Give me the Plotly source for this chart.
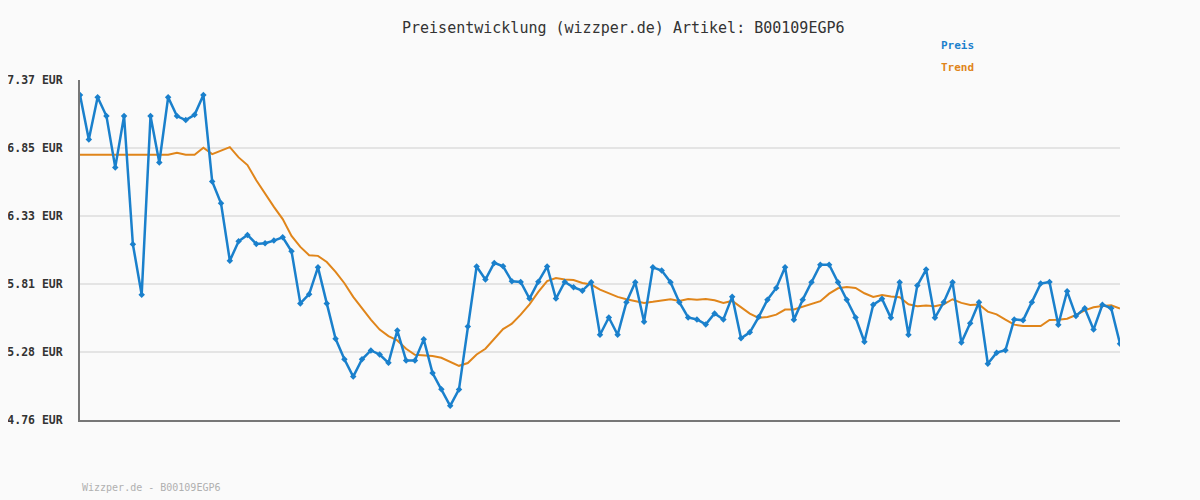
import plotly.graph_objects as go

preis = [7.255, 6.914, 7.237, 7.093, 6.699, 7.093, 6.109, 5.722, 7.093, 6.737,
         7.237, 7.093, 7.062, 7.103, 7.255, 6.591, 6.424, 5.983, 6.132, 6.181,
         6.112, 6.117, 6.137, 6.162, 6.055, 5.655, 5.726, 5.932, 5.655, 5.383,
         5.226, 5.093, 5.226, 5.294, 5.263, 5.199, 5.447, 5.217, 5.217, 5.379,
         5.120, 4.997, 4.869, 4.995, 5.477, 5.938, 5.838, 5.966, 5.940, 5.825,
         5.820, 5.692, 5.822, 5.938, 5.692, 5.820, 5.779, 5.753, 5.818, 5.414,
         5.547, 5.414, 5.664, 5.818, 5.515, 5.932, 5.907, 5.818, 5.664, 5.547,
         5.532, 5.494, 5.578, 5.532, 5.707, 5.387, 5.433, 5.550, 5.684, 5.774,
         5.932, 5.530, 5.684, 5.818, 5.952, 5.952, 5.818, 5.684, 5.547, 5.361,
         5.645, 5.690, 5.544, 5.818, 5.414, 5.792, 5.915, 5.544, 5.664, 5.818,
         5.354, 5.502, 5.664, 5.192, 5.277, 5.295, 5.532, 5.525, 5.664, 5.807,
         5.820, 5.492, 5.748, 5.559, 5.618, 5.454, 5.645, 5.618, 5.346]

trend = [6.796, 6.796, 6.796, 6.796, 6.796, 6.796, 6.796, 6.796, 6.796, 6.796,
         6.796, 6.811, 6.796, 6.796, 6.850, 6.801, 6.829, 6.855, 6.776, 6.717,
         6.601, 6.494, 6.396, 6.302, 6.173, 6.089, 6.025, 6.020, 5.973, 5.897,
         5.810, 5.705, 5.615, 5.531, 5.454, 5.404, 5.371, 5.307, 5.261, 5.258,
         5.251, 5.238, 5.207, 5.176, 5.197, 5.263, 5.307, 5.384, 5.458, 5.499,
         5.569, 5.648, 5.743, 5.827, 5.850, 5.838, 5.835, 5.812, 5.800, 5.761,
         5.735, 5.705, 5.687, 5.672, 5.659, 5.667, 5.679, 5.687, 5.674, 5.689,
         5.684, 5.689, 5.679, 5.659, 5.674, 5.623, 5.577, 5.543, 5.551, 5.569,
         5.608, 5.608, 5.628, 5.651, 5.672, 5.730, 5.771, 5.781, 5.774, 5.733,
         5.705, 5.720, 5.708, 5.702, 5.648, 5.633, 5.638, 5.633, 5.648, 5.687,
         5.659, 5.643, 5.646, 5.592, 5.571, 5.530, 5.492, 5.481, 5.481, 5.481,
         5.528, 5.530, 5.538, 5.566, 5.602, 5.625, 5.635, 5.641, 5.615]

tick_vals = [7.37, 6.848, 6.326, 5.804, 5.282, 4.76]
tick_text = ["7.37 EUR", "6.85 EUR", "6.33 EUR", "5.81 EUR", "5.28 EUR", "4.76 EUR"]

title_text = "Preisentwicklung (wizzper.de) Artikel: B00109EGP6"
watermark = "Wizzper.de - B00109EGP6"

x = list(range(len(preis)))
MONO = "DejaVu Sans Mono, Liberation Mono, monospace"
BLUE = "#1a80cc"
ORANGE = "#e0851a"

# figure is placed at an 8px page offset; plot area spans page x 80..1120, y 80..420
fig = go.Figure()
fig.add_trace(go.Scatter(x=x, y=trend, mode="lines", name="Trend",
                         line=dict(color=ORANGE, width=2)))
fig.add_trace(go.Scatter(x=x, y=preis, mode="lines+markers", name="Preis",
                         line=dict(color=BLUE, width=2.5),
                         marker=dict(symbol="diamond", size=5, color=BLUE)))

fig.update_layout(
    width=1192, height=492,
    margin=dict(l=72, r=80, t=72, b=80, pad=0, autoexpand=False),
    paper_bgcolor="#fafafa", plot_bgcolor="#fafafa",
    showlegend=False,
    xaxis=dict(range=[0, len(preis) - 1], showgrid=False, zeroline=False,
               showticklabels=False, ticks="", showline=True, automargin=False,
               linecolor="#777777", linewidth=2, mirror=False),
    yaxis=dict(range=[4.76, 7.37], tickvals=tick_vals, ticktext=tick_text,
               showgrid=True, gridcolor="#e4e4e4", gridwidth=2, zeroline=False,
               showline=True, linecolor="#777777", linewidth=2, ticks="",
               ticklabelstandoff=13, automargin=False,
               tickfont=dict(family=MONO, size=11.5, color="#333333", weight="bold")),
    annotations=[
        dict(text=title_text, xref="paper", yref="paper", x=0.523, y=1.153,
             xanchor="center", yanchor="middle", showarrow=False,
             font=dict(family=MONO, size=15, color="#333333")),
        dict(text="Preis", xref="paper", yref="paper", x=0.826, y=1.100,
             xanchor="left", yanchor="middle", showarrow=False,
             font=dict(family=MONO, size=11, color=BLUE, weight="bold")),
        dict(text="Trend", xref="paper", yref="paper", x=0.826, y=1.038,
             xanchor="left", yanchor="middle", showarrow=False,
             font=dict(family=MONO, size=11, color=ORANGE, weight="bold")),
        dict(text=watermark, xref="paper", yref="paper", x=0.0, y=-0.199,
             xanchor="left", yanchor="middle", showarrow=False,
             font=dict(family=MONO, size=10, color="#b0b0b0")),
    ],
)

fig.write_html("out.html", post_script="document.body.style.background='#fafafa';")
